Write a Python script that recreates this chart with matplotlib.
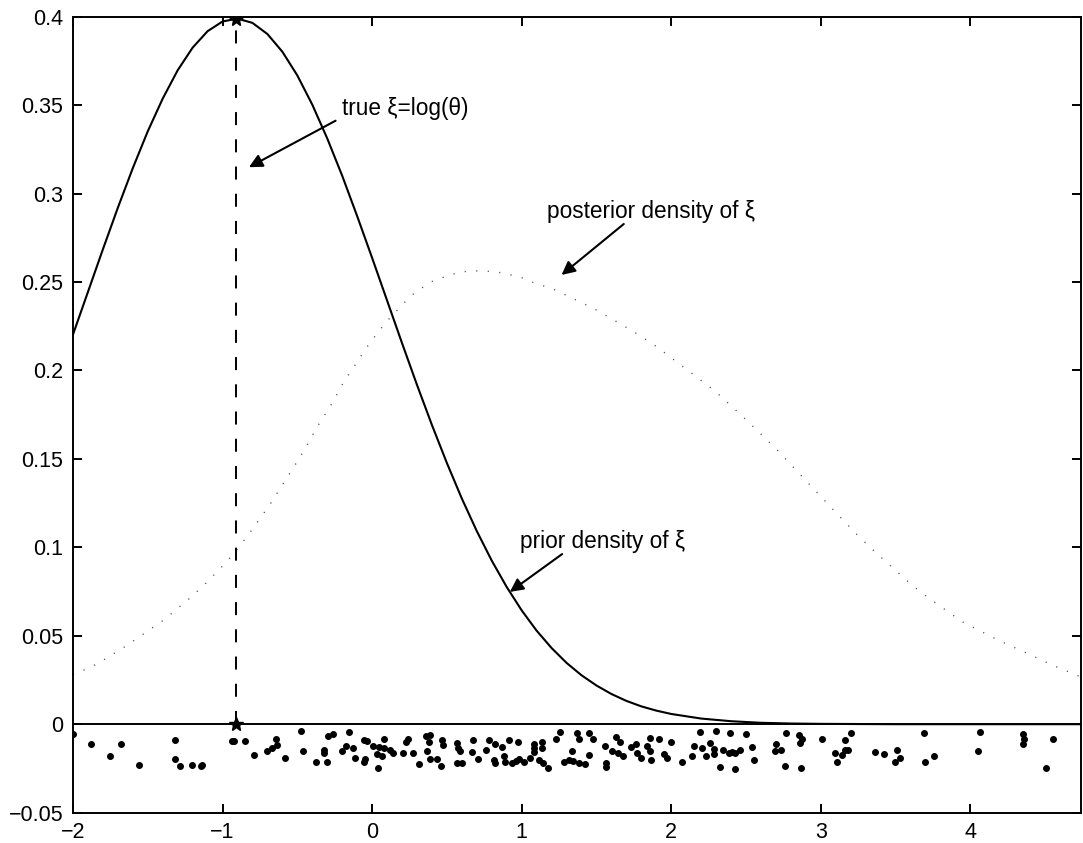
import matplotlib
matplotlib.use("Agg")
import matplotlib.pyplot as plt
import numpy as np

plt.rcParams["font.family"] = ["Liberation Sans", "DejaVu Sans"]

# prior density (solid)
prior_x = [-2.0, -1.9, -1.8, -1.7, -1.6, -1.5, -1.4, -1.3, -1.2, -1.1, -1.0, -0.9,
           -0.8, -0.7, -0.6, -0.5, -0.4, -0.3, -0.2, -0.1, 0.0, 0.1, 0.2, 0.3, 0.4,
           0.5, 0.6, 0.7, 0.8, 0.9, 1.0, 1.1, 1.2, 1.3, 1.4, 1.5, 1.6, 1.7, 1.8, 1.9,
           2.0, 2.2, 2.4, 2.6, 2.8, 3.0, 3.5, 4.0, 4.74]
prior_y = [0.2203, 0.2444, 0.2685, 0.2920, 0.3144, 0.3352, 0.3537, 0.3697, 0.3825,
           0.3918, 0.3973, 0.3989, 0.3965, 0.3902, 0.3802, 0.3668, 0.3503, 0.3312,
           0.3101, 0.2873, 0.2637, 0.2396, 0.2155, 0.1919, 0.1692, 0.1477, 0.1276,
           0.1092, 0.0925, 0.0776, 0.0644, 0.0529, 0.0431, 0.0347, 0.0277, 0.0219,
           0.0171, 0.0132, 0.0101, 0.0077, 0.0058, 0.0032, 0.0017, 0.0008, 0.0004,
           0.0002, 0.0, 0.0, 0.0]

# posterior density (dotted)
post_x = [-2.0, -1.873, -1.806, -1.688, -1.628, -1.509, -1.389, -1.338, -1.227, -1.122,
          -1.024, -0.926, -0.841, -0.757, -0.674, -0.636, -0.523, -0.447, -0.376,
          -0.302, -0.264, -0.195, -0.117, -0.039, 0.048, 0.09, 0.186, 0.24, 0.291,
          0.409, 0.502, 0.592, 0.737, 0.87, 0.993, 1.082, 1.215, 1.349, 1.479, 1.661,
          1.784, 1.902, 2.291, 2.503, 2.709, 2.953, 3.098, 3.245, 3.348, 3.613, 3.725,
          3.956, 4.213, 4.406, 4.535, 4.669, 4.74]
post_y = [0.028, 0.0326, 0.0358, 0.042, 0.0452, 0.0522, 0.0592, 0.0628, 0.0707, 0.0788,
          0.0873, 0.0962, 0.1056, 0.1154, 0.1254, 0.1305, 0.1455, 0.1559, 0.1669,
          0.1769, 0.182, 0.1927, 0.2027, 0.2127, 0.2225, 0.227, 0.2357, 0.2404, 0.2444,
          0.2507, 0.2534, 0.2558, 0.2564, 0.2552, 0.2527, 0.2496, 0.2459, 0.2404,
          0.2352, 0.2263, 0.2201, 0.2135, 0.1885, 0.172, 0.155, 0.133, 0.12, 0.107,
          0.0986, 0.0784, 0.0711, 0.0574, 0.0465, 0.0391, 0.0339, 0.0292, 0.0267]

true_xi = -0.91
true_top = 0.3989

# jittered observations below the axis
obs_x = [-2.000, -1.877, -1.753, -1.677, -1.559, -1.318, -1.318, -1.285, -1.207, -1.145,
         -1.140, -0.940, -0.925, -0.850, -0.790, -0.701, -0.667, -0.638, -0.640, -0.580,
         -0.478, -0.463, -0.373, -0.322, -0.322, -0.300, -0.295, -0.264, -0.157, -0.202,
         -0.177, -0.128, -0.117, -0.057, -0.032, -0.055, -0.048, 0.008, 0.045, 0.079,
         0.081, 0.039, 0.035, 0.068, 0.119, 0.137, 0.204, 0.226, 0.242, 0.275,
         0.311, 0.360, 0.386, 0.382, 0.369, 0.387, 0.431, 0.465, 0.473, 0.463,
         0.565, 0.574, 0.587, 0.569, 0.603, 0.676, 0.670, 0.705, 0.781, 0.821,
         0.765, 0.814, 0.819, 0.872, 0.881, 0.892, 0.917, 0.975, 0.937, 0.959,
         0.981, 1.019, 1.055, 1.082, 1.086, 1.082, 1.138, 1.138, 1.115, 1.144,
         1.178, 1.231, 1.258, 1.338, 1.282, 1.316, 1.345, 1.382, 1.367, 1.382,
         1.449, 1.476, 1.449, 1.427, 1.561, 1.567, 1.556, 1.601, 1.634, 1.661,
         1.643, 1.676, 1.728, 1.766, 1.773, 1.795, 1.857, 1.839, 1.857, 1.917,
         1.862, 1.951, 1.973, 2.000, 2.074, 2.136, 2.151, 2.196, 2.207, 2.258,
         2.236, 2.285, 2.285, 2.303, 2.325, 2.348, 2.392, 2.385, 2.408, 2.430,
         2.459, 2.430, 2.497, 2.541, 2.557, 2.704, 2.697, 2.731, 2.769, 2.760,
         2.853, 2.876, 2.864, 2.871, 3.009, 3.094, 3.112, 3.145, 3.161, 3.165,
         3.185, 3.205, 3.361, 3.421, 3.511, 3.533, 3.499, 3.693, 3.695, 3.755,
         4.063, 4.050, 4.353, 4.362, 4.353, 4.504, 4.553]
obs_y = [-0.0057, -0.0110, -0.0177, -0.0110, -0.0232, -0.0089, -0.0198, -0.0236, -0.0232, -0.0237,
         -0.0228, -0.0095, -0.0095, -0.0097, -0.0173, -0.0152, -0.0137, -0.0116, -0.0082, -0.0192,
         -0.0038, -0.0154, -0.0215, -0.0146, -0.0160, -0.0211, -0.0068, -0.0053, -0.0044, -0.0154,
         -0.0125, -0.0135, -0.0190, -0.0087, -0.0093, -0.0211, -0.0194, -0.0124, -0.0127, -0.0133,
         -0.0086, -0.0245, -0.0167, -0.0177, -0.0143, -0.0162, -0.0160, -0.0101, -0.0082, -0.0162,
         -0.0226, -0.0067, -0.0063, -0.0101, -0.0152, -0.0196, -0.0196, -0.0091, -0.0120, -0.0234,
         -0.0104, -0.0133, -0.0152, -0.0222, -0.0222, -0.0091, -0.0158, -0.0194, -0.0089, -0.0110,
         -0.0143, -0.0200, -0.0222, -0.0127, -0.0180, -0.0215, -0.0089, -0.0101, -0.0222, -0.0209,
         -0.0194, -0.0215, -0.0190, -0.0114, -0.0133, -0.0158, -0.0099, -0.0137, -0.0200, -0.0218,
         -0.0247, -0.0086, -0.0044, -0.0154, -0.0215, -0.0204, -0.0209, -0.0222, -0.0048, -0.0086,
         -0.0051, -0.0086, -0.0175, -0.0224, -0.0218, -0.0243, -0.0124, -0.0152, -0.0072, -0.0101,
         -0.0162, -0.0180, -0.0129, -0.0110, -0.0165, -0.0190, -0.0080, -0.0124, -0.0152, -0.0086,
         -0.0200, -0.0171, -0.0190, -0.0101, -0.0215, -0.0177, -0.0124, -0.0042, -0.0133, -0.0104,
         -0.0177, -0.0139, -0.0171, -0.0040, -0.0243, -0.0143, -0.0048, -0.0162, -0.0158, -0.0162,
         -0.0146, -0.0251, -0.0053, -0.0129, -0.0200, -0.0114, -0.0152, -0.0146, -0.0048, -0.0238,
         -0.0063, -0.0086, -0.0108, -0.0245, -0.0086, -0.0162, -0.0211, -0.0175, -0.0091, -0.0143,
         -0.0143, -0.0051, -0.0156, -0.0169, -0.0148, -0.0190, -0.0213, -0.0048, -0.0211, -0.0180,
         -0.0042, -0.0154, -0.0053, -0.0086, -0.0110, -0.0245, -0.0086]

x_ticks = [-2, -1, 0, 1, 2, 3, 4]
x_labels = ["\u22122", "\u22121", "0", "1", "2", "3", "4"]
y_ticks = [-0.05, 0, 0.05, 0.1, 0.15, 0.2, 0.25, 0.3, 0.35, 0.4]
y_labels = ["\u22120.05", "0", "0.05", "0.1", "0.15", "0.2", "0.25", "0.3", "0.35", "0.4"]

fig = plt.figure(figsize=(10.83, 8.43), dpi=100)
ax = fig.add_axes([0.0674, 0.036, 0.9307, 0.9442])

ax.axhline(0, color="k", lw=1.4)
ax.plot(prior_x, prior_y, color="k", lw=1.5)
ax.plot(post_x, post_y, color="0.3", lw=1.0, linestyle=(0, (0.8, 7.5)))
ax.plot([true_xi, true_xi], [0, true_top], color="k", lw=1.4, linestyle=(0, (6.7, 7.3)))
ax.plot([true_xi, true_xi], [0, true_top], linestyle="none", marker="*",
        color="k", markersize=10)
ax.plot(obs_x, obs_y, linestyle="none", marker="o", color="k", markersize=4.0)

arrow = dict(arrowstyle="-|>", color="k", lw=1.5, mutation_scale=20,
             shrinkA=0, shrinkB=0)
fs = 16.3
ax.text(-0.199, 0.3445, "true \u03be=log(\u03b8)", fontsize=fs, va="baseline")
ax.annotate("", xy=(-0.8235, 0.3149), xytext=(-0.244, 0.3412), arrowprops=arrow)
ax.text(1.171, 0.2862, "posterior density of \u03be", fontsize=fs, va="baseline")
ax.annotate("", xy=(1.267, 0.254), xytext=(1.683, 0.2828), arrowprops=arrow)
ax.text(0.988, 0.0999, "prior density of \u03be", fontsize=fs, va="baseline")
ax.annotate("", xy=(0.921, 0.0748), xytext=(1.271, 0.0962), arrowprops=arrow)

ax.set_xlim(-2, 4.74)
ax.set_ylim(-0.05, 0.4)
ax.set_xticks(x_ticks)
ax.set_xticklabels(x_labels)
ax.set_yticks(y_ticks)
ax.set_yticklabels(y_labels)
ax.tick_params(direction="in", top=True, right=True, length=6.5, width=1.4,
               labelsize=15.5, pad=7)
for s in ax.spines.values():
    s.set_linewidth(1.4)

fig.savefig("out.png", dpi=100)
